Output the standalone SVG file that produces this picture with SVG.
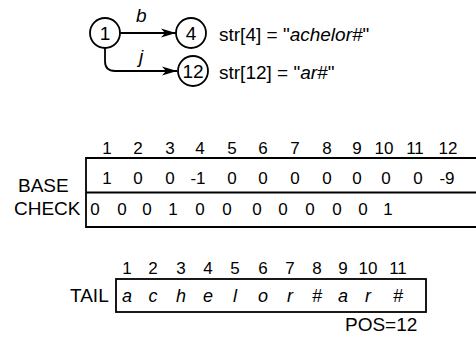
<svg xmlns="http://www.w3.org/2000/svg" width="476" height="343" viewBox="0 0 476 343">
  <style>
    text { font-family: "Liberation Sans", Arial, sans-serif; fill: #000; }
    .num { font-size: 17px; text-anchor: middle; }
    .lbl { font-size: 19px; }
    .it { font-style: italic; }
    .node circle { fill: #fff; stroke: #000; stroke-width: 1.8; }
    .node text { font-size: 19px; text-anchor: middle; }
    .edge { fill: none; stroke: #000; stroke-width: 1.8; }
    .box { fill: none; stroke: #000; stroke-width: 1.8; }
  </style>
  <defs>
    <marker id="arrow" viewBox="0 0 15 10" refX="15" refY="5" markerWidth="15" markerHeight="10" markerUnits="userSpaceOnUse" orient="auto">
      <path d="M0,0.5 L15,5 L0,9.5 L4,5 Z" fill="#000"/>
    </marker>
  </defs>

  <!-- trie edges -->
  <g id="connectors">
    <path class="edge" d="M120,33 L176,33" marker-end="url(#arrow)"/>
    <path class="edge" d="M105,48 L105,61 Q105,71 115,71 L177,71" marker-end="url(#arrow)"/>
    <text class="lbl it" x="136" y="22">b</text>
    <text class="lbl it" x="139" y="63">j</text>
  </g>

  <!-- trie nodes -->
  <g id="node1" class="node">
    <circle cx="105" cy="33" r="15"/>
    <text x="105" y="40">1</text>
  </g>
  <g id="node4" class="node">
    <circle cx="191" cy="33" r="15"/>
    <text x="191" y="40">4</text>
  </g>
  <g id="node12" class="node">
    <circle cx="193" cy="71" r="15"/>
    <text x="193" y="78">12</text>
  </g>

  <!-- tail strings of separate nodes -->
  <g id="str4">
    <text class="lbl" x="219" y="41">str[4] = "<tspan class="it">achelor#</tspan>"</text>
  </g>
  <g id="str12">
    <text class="lbl" x="219" y="79">str[12] = "<tspan class="it">ar#</tspan>"</text>
  </g>

  <!-- double-array: BASE / CHECK -->
  <g id="double-array">
    <g class="num">
      <text x="107" y="154">1</text>
      <text x="138" y="154">2</text>
      <text x="170" y="154">3</text>
      <text x="200" y="154">4</text>
      <text x="232" y="154">5</text>
      <text x="263" y="154">6</text>
      <text x="295" y="154">7</text>
      <text x="327" y="154">8</text>
      <text x="357" y="154">9</text>
      <text x="384" y="154">10</text>
      <text x="415" y="154">11</text>
      <text x="448" y="154">12</text>
    </g>
    <path class="box" d="M480,158 L86,158 L86,227 L480,227 M86,192.5 L480,192.5"/>
    <text class="lbl" x="18" y="192">BASE</text>
    <text class="lbl" x="14" y="215">CHECK</text>
    <g class="num">
      <text x="107" y="184">1</text>
      <text x="138" y="184">0</text>
      <text x="170" y="184">0</text>
      <text x="198" y="184">-1</text>
      <text x="232" y="184">0</text>
      <text x="263" y="184">0</text>
      <text x="295" y="184">0</text>
      <text x="327" y="184">0</text>
      <text x="357" y="184">0</text>
      <text x="386" y="184">0</text>
      <text x="418" y="184">0</text>
      <text x="447" y="184">-9</text>
    </g>
    <g class="num">
      <text x="95" y="215">0</text>
      <text x="122" y="215">0</text>
      <text x="147" y="215">0</text>
      <text x="173" y="215">1</text>
      <text x="200" y="215">0</text>
      <text x="227" y="215">0</text>
      <text x="257" y="215">0</text>
      <text x="283" y="215">0</text>
      <text x="310" y="215">0</text>
      <text x="337" y="215">0</text>
      <text x="363" y="215">0</text>
      <text x="388" y="215">1</text>
    </g>
  </g>

  <!-- TAIL array -->
  <g id="tail">
    <g class="num">
      <text x="127" y="274">1</text>
      <text x="153" y="274">2</text>
      <text x="181" y="274">3</text>
      <text x="208" y="274">4</text>
      <text x="235" y="274">5</text>
      <text x="263" y="274">6</text>
      <text x="290" y="274">7</text>
      <text x="317" y="274">8</text>
      <text x="343" y="274">9</text>
      <text x="368" y="274">10</text>
      <text x="398" y="274">11</text>
    </g>
    <rect class="box" x="116" y="279" width="310" height="33"/>
    <text class="lbl" x="70" y="302">TAIL</text>
    <g class="num it">
      <text x="127" y="302" font-size="18">a</text>
      <text x="153" y="302" font-size="18">c</text>
      <text x="181" y="302" font-size="18">h</text>
      <text x="208" y="302" font-size="18">e</text>
      <text x="235" y="302" font-size="18">l</text>
      <text x="263" y="302" font-size="18">o</text>
      <text x="290" y="302" font-size="18">r</text>
      <text x="317" y="302" font-size="18">#</text>
      <text x="343" y="302" font-size="18">a</text>
      <text x="368" y="302" font-size="18">r</text>
      <text x="398" y="302" font-size="18">#</text>
    </g>
    <text class="lbl" x="345" y="331">POS=12</text>
  </g>
</svg>
